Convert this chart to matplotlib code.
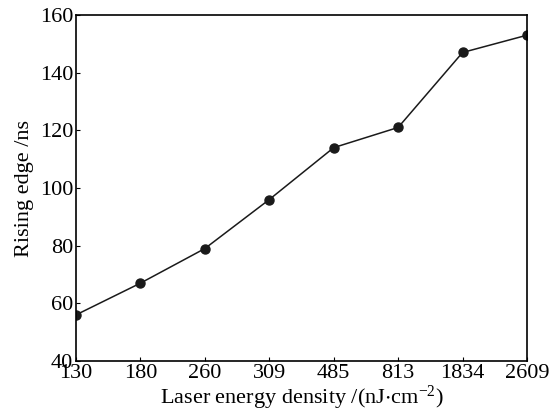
import matplotlib
matplotlib.use('Agg')
import matplotlib.pyplot as plt

energy_labels = ['130', '180', '260', '309', '485', '813', '1834', '2609']
rising_edge = [56, 67, 79, 96, 114, 121, 147, 153]

plt.rcParams['font.family'] = 'Liberation Serif'
plt.rcParams['mathtext.fontset'] = 'custom'
plt.rcParams['mathtext.rm'] = 'Liberation Serif'
plt.rcParams['mathtext.default'] = 'regular'

fig = plt.figure(figsize=(5.57, 4.11), dpi=100)
ax = fig.add_axes([76 / 557, 1 - 361 / 411, 451 / 557, 346 / 411])

x = list(range(len(energy_labels)))
ax.plot(x, rising_edge, color='#1a1a1a', linewidth=1.1, marker='o', markersize=6.5)

ax.set_xlim(0, len(energy_labels) - 1)
ax.set_ylim(40, 160)
ax.set_xticks(x)
ax.set_xticklabels(energy_labels)
ax.set_yticks(range(40, 161, 20))
ax.tick_params(direction='in', length=3, width=0.8, labelsize=16, pad=2)
for s in ax.spines.values():
    s.set_linewidth(1.2)

ax.set_xlabel('Laser energy density /(nJ$\\cdot$cm$^{-2}$)', fontsize=16, labelpad=1)
ax.set_ylabel('Rising edge /ns', fontsize=16, labelpad=4)

fig.savefig('out.png', dpi=100)
